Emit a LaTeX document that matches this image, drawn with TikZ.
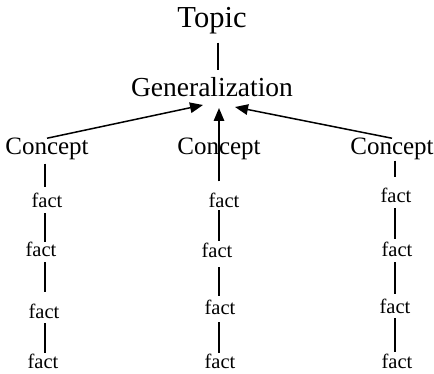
\documentclass[tikz,border=0pt]{standalone}
\usepackage{fontspec}
\setmainfont{Liberation Serif}
\usetikzlibrary{arrows.meta}
\begin{document}
\begin{tikzpicture}[x=1pt,y=-1pt,
  label/.style={inner sep=0pt,anchor=base},
  topicfont/.style={label,font=\fontsize{30.5}{36}\selectfont},
  genfont/.style={label,font=\fontsize{27.5}{33}\selectfont},
  conceptfont/.style={label,font=\fontsize{25}{30}\selectfont},
  factfont/.style={label,font=\fontsize{20.5}{24}\selectfont},
  link/.style={line width=1.5pt},
  arrowlink/.style={line width=1.5pt,-{Triangle[length=13pt,width=10.5pt]}}]
\useasboundingbox (0,0) rectangle (434,374);

% column guides for the vertical links
\coordinate (colT) at (218,0);
\coordinate (colL) at (45,0);
\coordinate (colM) at (219,0);
\coordinate (colR) at (395,0);

% arrow tips under the generalization
\coordinate (tipL) at (203,105);
\coordinate (tipM) at (219,108);
\coordinate (tipR) at (235,107);

% headings
\node[topicfont] (topic) at (212,28) {Topic};
\node[genfont] (gen) at (212,97) {Generalization};

% concepts
\node[conceptfont] (cL) at (47,155) {Concept};
\node[conceptfont] (cM) at (219,155) {Concept};
\node[conceptfont] (cR) at (392,155) {Concept};

% facts, left column
\node[factfont] (fL1) at (47,208) {fact};
\node[factfont] (fL2) at (41,257) {fact};
\node[factfont] (fL3) at (44,318) {fact};
\node[factfont] (fL4) at (43,368) {fact};

% facts, middle column
\node[factfont] (fM1) at (224,208) {fact};
\node[factfont] (fM2) at (217,258) {fact};
\node[factfont] (fM3) at (220,315) {fact};
\node[factfont] (fM4) at (220,368) {fact};

% facts, right column
\node[factfont] (fR1) at (396,203) {fact};
\node[factfont] (fR2) at (397,257) {fact};
\node[factfont] (fR3) at (395,313) {fact};
\node[factfont] (fR4) at (397,368) {fact};

% topic to generalization
\draw[link,shorten <=8pt,shorten >=8pt] (topic.south -| colT) -- (gen.north -| colT);

% concepts feed the generalization
\draw[arrowlink] (cL.north) -- (tipL);
\draw[arrowlink,shorten <=12pt] (fM1.north -| colM) -- (tipM);
\draw[arrowlink] (cR.north) -- (tipR);

% left chain
\draw[link,shorten <=3pt,shorten >=6pt] (cL.south -| colL) -- (fL1.north -| colL);
\draw[link,shorten <=5pt] (fL1.south -| colL) -- (fL2.north -| colL);
\draw[link,shorten <=5pt,shorten >=11pt] (fL2.south -| colL) -- (fL3.north -| colL);
\draw[link,shorten <=5pt] (fL3.south -| colL) -- (fL4.north -| colL);

% middle chain
\draw[link,shorten <=2pt,shorten >=2pt] (fM1.south -| colM) -- (fM2.north -| colM);
\draw[link,shorten <=9pt,shorten >=4pt] (fM2.south -| colM) -- (fM3.north -| colM);
\draw[link,shorten <=7pt] (fM3.south -| colM) -- (fM4.north -| colM);

% right chain
\draw[link,shorten >=11pt] (cR.south -| colR) -- (fR1.north -| colR);
\draw[link,shorten <=5pt,shorten >=3pt] (fR1.south -| colR) -- (fR2.north -| colR);
\draw[link,shorten <=5pt,shorten >=4pt] (fR2.south -| colR) -- (fR3.north -| colR);
\draw[link,shorten <=5pt,shorten >=1pt] (fR3.south -| colR) -- (fR4.north -| colR);
\end{tikzpicture}
\end{document}
